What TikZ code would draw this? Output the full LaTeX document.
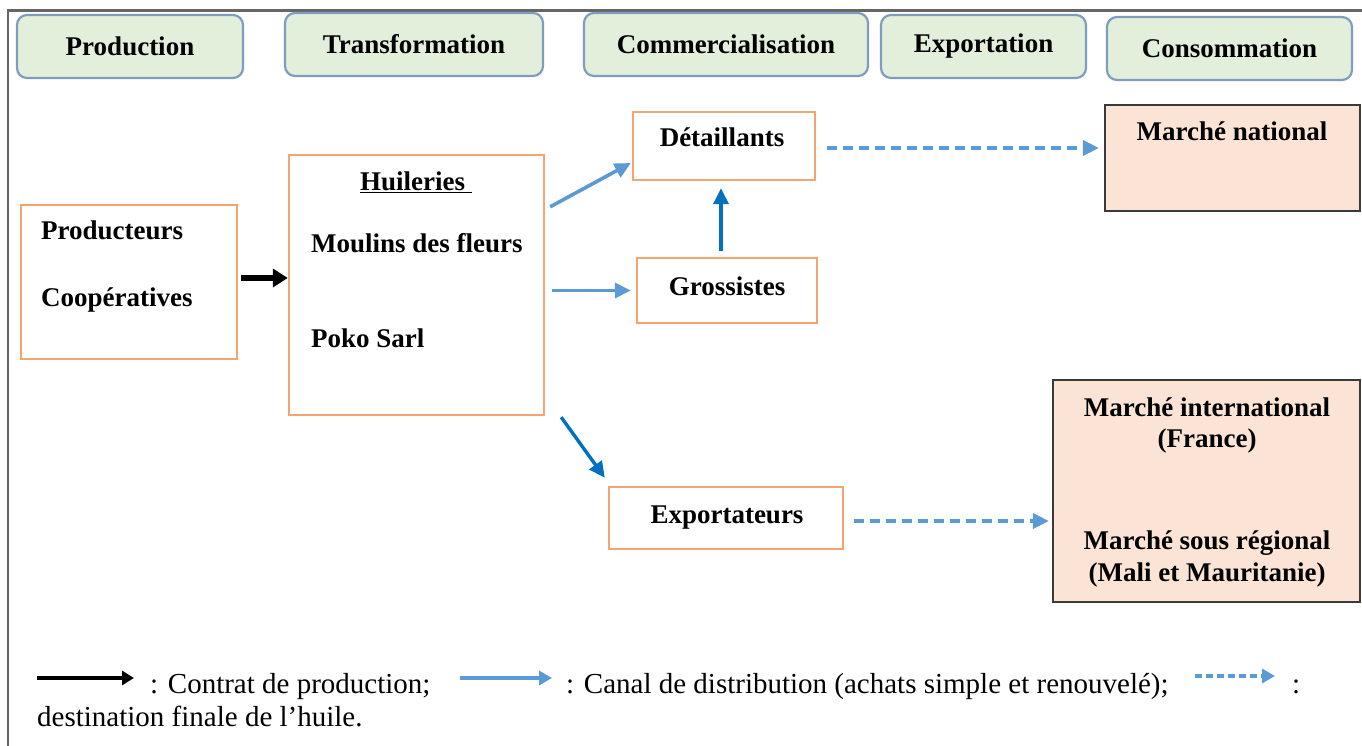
\documentclass[tikz,border=0pt]{standalone}
\usepackage{fontspec}
\setmainfont{Liberation Serif}
\usetikzlibrary{arrows.meta}
\definecolor{hdrfill}{HTML}{E2EFDA}
\definecolor{hdrdraw}{HTML}{7F9DBF}
\definecolor{orng}{HTML}{F4A46E}
\definecolor{mktfill}{HTML}{FBE4D5}
\definecolor{mktdraw}{HTML}{3A3A3A}
\definecolor{lblue}{HTML}{5B9BD5}
\definecolor{dblue}{HTML}{0070C0}
\definecolor{framegray}{HTML}{666666}
\begin{document}
\begin{tikzpicture}[x=1pt,y=-1pt,
  hdr/.style={draw=hdrdraw, fill=hdrfill, rounded corners=10pt, line width=2.2pt,
    font=\fontsize{27}{32}\selectfont\bfseries, inner sep=0pt},
  obox/.style={draw=orng, line width=2.4pt, inner sep=0pt},
  mkt/.style={draw=mktdraw, fill=mktfill, line width=2.2pt, inner sep=0pt},
  btxt/.style={font=\fontsize{27}{32}\selectfont\bfseries, inner sep=0pt},
  leg/.style={font=\fontsize{29}{34}\selectfont, inner sep=0pt, anchor=base west},
  blk/.style={line width=5.5pt, black, -{Triangle[length=15pt,width=18pt]}},
  lbl/.style={line width=3.6pt, lblue, -{Triangle[length=16pt,width=15pt]}},
  dbl/.style={line width=3.4pt, dblue, -{Triangle[length=16pt,width=15pt]}},
  dsh/.style={line width=3.6pt, lblue, dash pattern=on 10pt off 6pt, -{Triangle[length=16pt,width=15pt]}}
]
\useasboundingbox (0,0) rectangle (1362,746);
\fill[white] (0,0) rectangle (1362,746);
% frame
\draw[framegray, line width=2.2pt] (8,746) -- (8,10.5) -- (1362,10.5);

% header boxes
\node[hdr, minimum width=226pt, minimum height=63pt] (hprod) at (130,46.5) {Production};
\node[hdr, minimum width=258pt, minimum height=63pt] (htrans) at (414,44.5) {Transformation};
\node[hdr, minimum width=284pt, minimum height=63pt] (hcomm) at (726,44.5) {Commercialisation};
\node[hdr, minimum width=205pt, minimum height=63pt] (hexp) at (983.5,46.5) {Exportation};
\node[hdr, minimum width=245pt, minimum height=63pt] (hcons) at (1229.5,48.5) {Consommation};

% production box
\node[obox, minimum width=216pt, minimum height=154pt] (prod) at (129,282) {};
\node[btxt, anchor=base west] (tprod) at (41,240) {Producteurs};
\node[btxt, anchor=base west] (tcoop) at (41,306) {Coopératives};

% huileries box
\node[obox, minimum width=255pt, minimum height=260pt] (huil) at (416.5,285) {};
\node[btxt, anchor=base] (thuil) at (416,190) {\underline{Huileries~}};
\node[btxt, anchor=base west] (tmoul) at (311,252) {Moulins des fleurs};
\node[btxt, anchor=base west] (tpoko) at (311,347) {Poko Sarl};

% commercialisation boxes
\node[obox, minimum width=182pt, minimum height=68pt] (det) at (724,146) {};
\node[btxt, anchor=base] (tdet) at (722,147) {Détaillants};
\node[obox, minimum width=180pt, minimum height=65pt] (gross) at (727,290.5) {};
\node[btxt, anchor=base] (tgross) at (727,295) {Grossistes};
\node[obox, minimum width=234pt, minimum height=62pt] (exp) at (726,518) {};
\node[btxt, anchor=base] (texp) at (727,523) {Exportateurs};

% market boxes
\node[mkt, minimum width=255pt, minimum height=106pt] (natl) at (1232.5,158) {};
\node[btxt, anchor=base] (tnatl) at (1232,141) {Marché national};
\node[mkt, minimum width=307pt, minimum height=222pt] (intl) at (1206.5,491) {};
\node[btxt, anchor=base] (tintl) at (1207,416) {Marché international};
\node[btxt, anchor=base] (tfr) at (1207,447) {(France)};
\node[btxt, anchor=base] (tsous) at (1207,549) {Marché sous régional};
\node[btxt, anchor=base] (tmali) at (1207,581) {(Mali et Mauritanie)};

% connectors
\draw[blk] ([xshift=3pt]prod.east |- 0,278) -- (huil.west |- 0,278);
\draw[lbl] ([shift={(5,53)}]huil.north east) -- ([shift={(-1,17)}]det.west);
\draw[lbl] ([xshift=7pt]huil.east |- gross.west) -- ([xshift=-5pt]gross.west);
\draw[dbl] ([shift={(16,1)}]huil.south east) -- ([shift={(-3,-8)}]exp.north west);
\draw[dbl] ([shift={(-6,-6)}]gross.north) -- ([shift={(-3,7)}]det.south);
\draw[dsh] ([shift={(11,2)}]det.east) -- ([shift={(-5,-10)}]natl.west);
\draw[dsh] ([shift={(10,3)}]exp.east) -- ([shift={(-3,30)}]intl.west);

% legend
\coordinate (l1a) at (37,678);
\coordinate (l1b) at (134,678);
\coordinate (l2a) at (460,678);
\coordinate (l2b) at (552,678);
\coordinate (l3a) at (1195,676);
\coordinate (l3b) at (1275,676);
\draw[line width=4pt, black, -{Triangle[length=12pt,width=14pt]}] (l1a) -- (l1b);
\draw[line width=3.6pt, lblue, -{Triangle[length=13pt,width=14pt]}] (l2a) -- (l2b);
\draw[line width=3.6pt, lblue, dash pattern=on 7pt off 4pt, -{Triangle[length=13pt,width=14pt]}] (l3a) -- (l3b);
\node[leg] (leg1) at (150,693) {: Contrat de production;};
\node[leg] (leg2) at (566,693) {: Canal de distribution (achats simple et renouvelé);};
\node[leg] (leg3) at (1292,693) {:};
\node[leg] (leg4) at (37,726) {destination finale de l’huile.};
\end{tikzpicture}
\end{document}
